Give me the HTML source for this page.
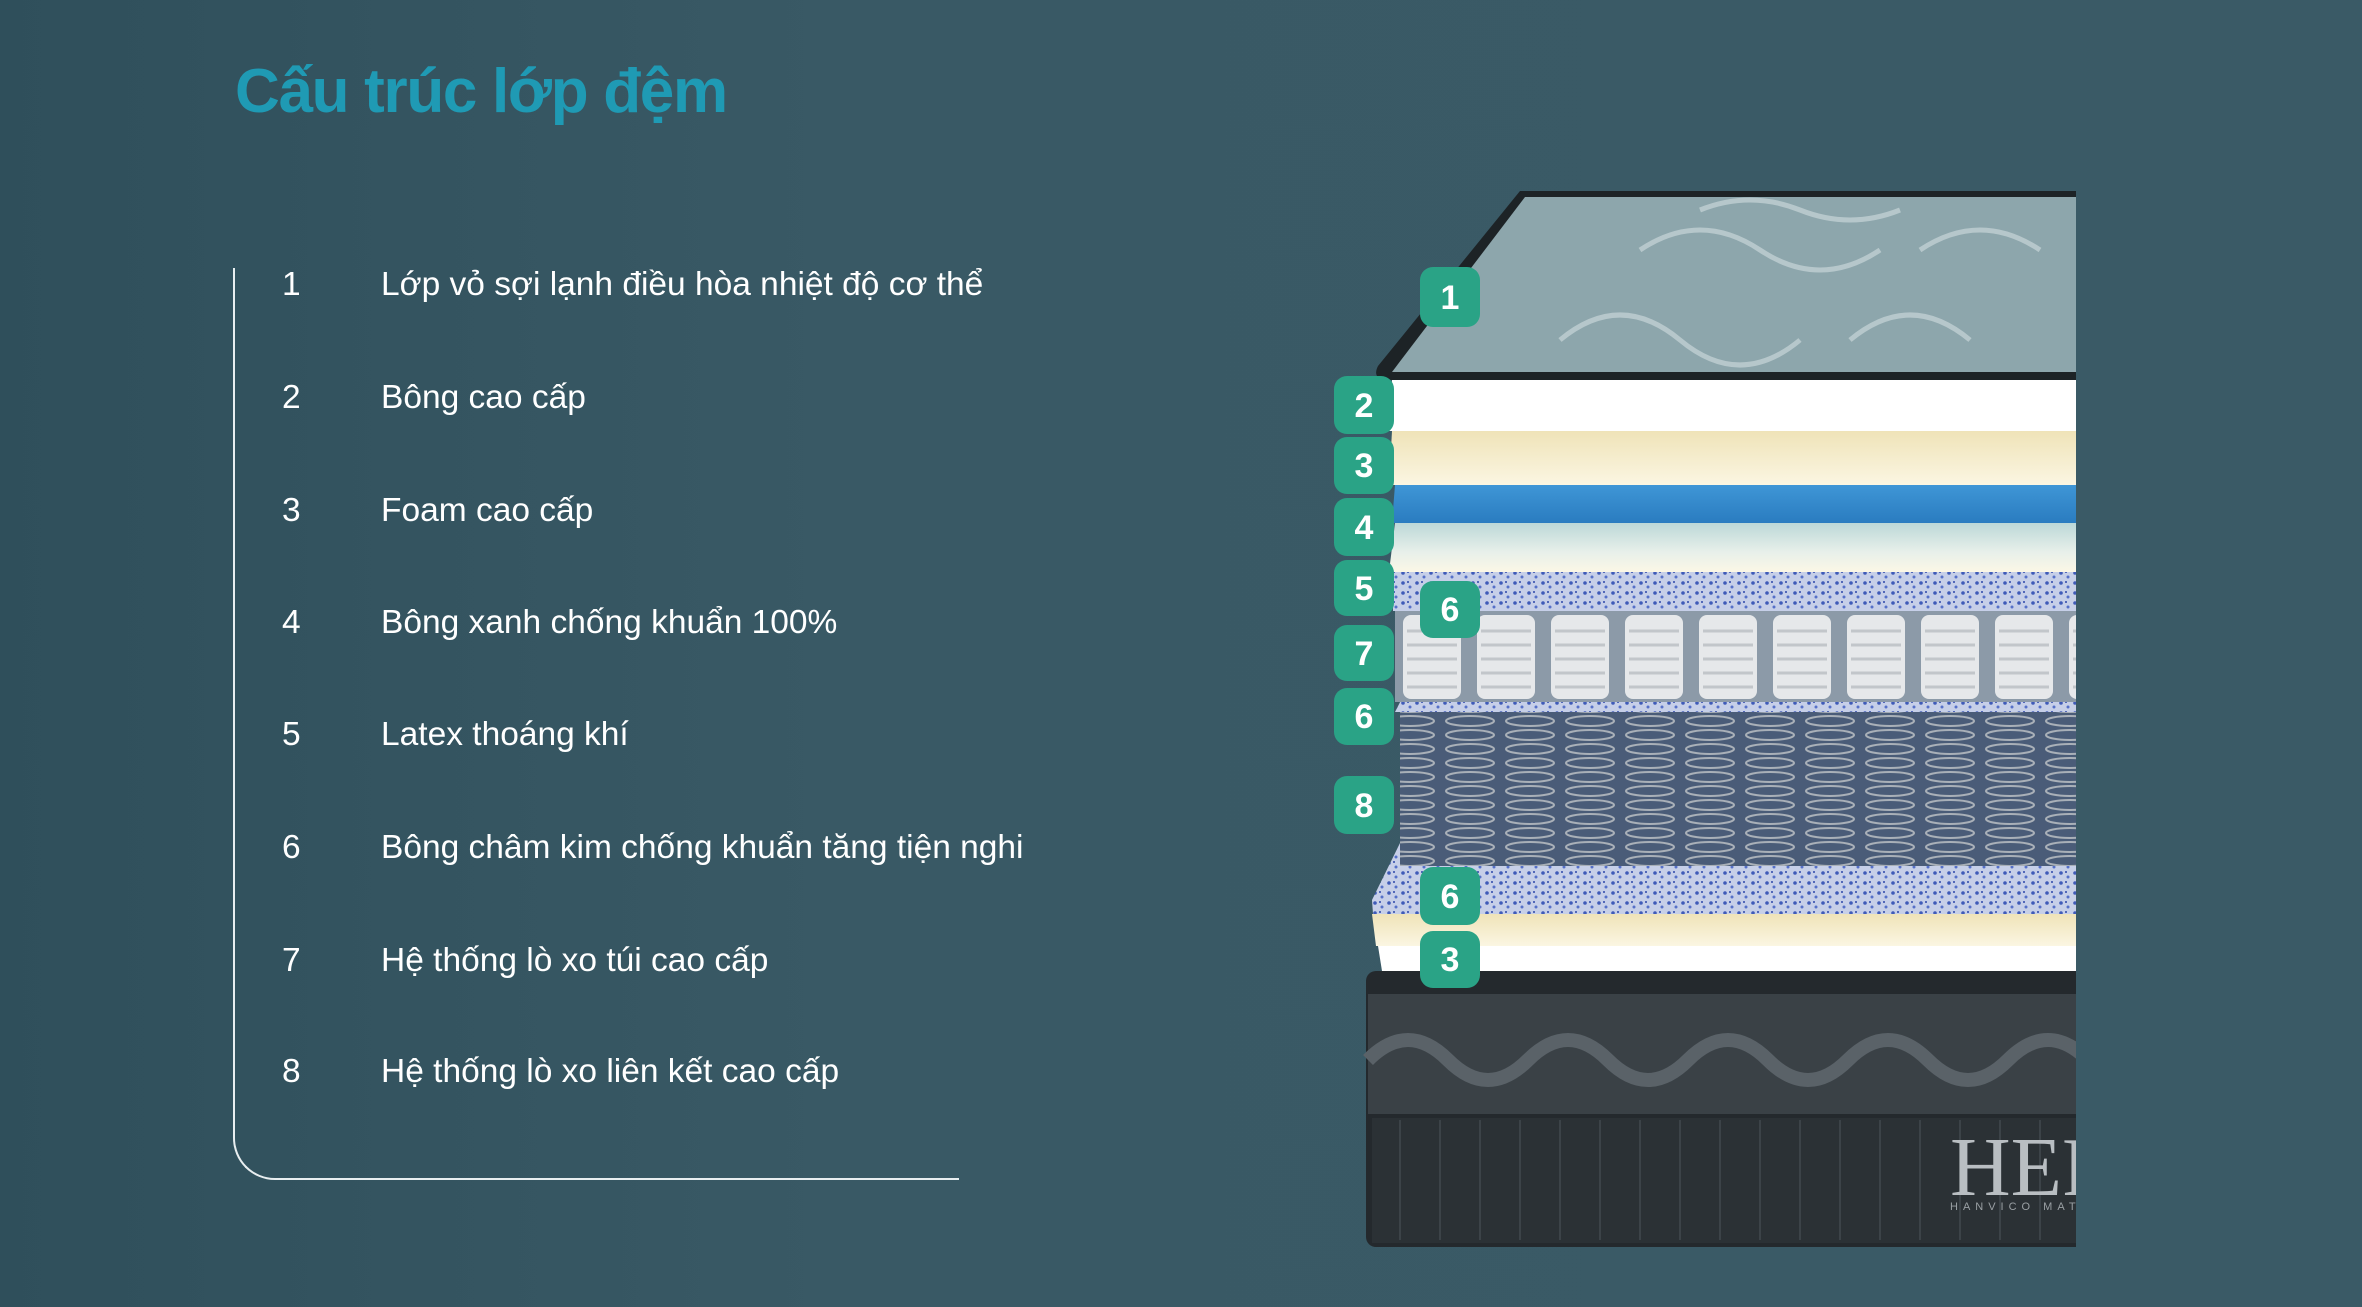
<!DOCTYPE html>
<html><head><meta charset="utf-8"><style>
html,body{margin:0;padding:0}
body{width:2362px;height:1307px;overflow:hidden;position:relative;background:linear-gradient(90deg,#2f4f5b 0%,#395965 35%,#3a5a66 100%);font-family:"Liberation Sans","Noto Sans CJK SC",sans-serif}
.title{position:absolute;left:235px;top:56px;font-size:62px;color:#1f9ab4;font-weight:bold;letter-spacing:-1.3px}
.frame{position:absolute;left:233px;top:268px;width:724px;height:910px;border-left:2px solid #e8eef0;border-bottom:2px solid #e8eef0;border-bottom-left-radius:42px;border-top:none;border-right:none}
.row{position:absolute;color:#fff;font-size:33.5px;line-height:40px}
.num{left:282px}.txt{left:381px}
</style></head><body>
<div class="title">Cấu trúc lớp đệm</div>
<div class="frame"></div>
<div class="row num" style="top:265px">1</div><div class="row txt" style="top:265px">Lớp vỏ sợi lạnh điều hòa nhiệt độ cơ thể</div>
<div class="row num" style="top:378px">2</div><div class="row txt" style="top:378px">Bông cao cấp</div>
<div class="row num" style="top:491px">3</div><div class="row txt" style="top:491px">Foam cao cấp</div>
<div class="row num" style="top:603px">4</div><div class="row txt" style="top:603px">Bông xanh chống khuẩn 100%</div>
<div class="row num" style="top:715px">5</div><div class="row txt" style="top:715px">Latex thoáng khí</div>
<div class="row num" style="top:828px">6</div><div class="row txt" style="top:828px">Bông châm kim chống khuẩn tăng tiện nghi</div>
<div class="row num" style="top:941px">7</div><div class="row txt" style="top:941px">Hệ thống lò xo túi cao cấp</div>
<div class="row num" style="top:1052px">8</div><div class="row txt" style="top:1052px">Hệ thống lò xo liên kết cao cấp</div>

<svg style="position:absolute;left:0;top:0" width="2362" height="1307" viewBox="0 0 2362 1307">
<defs>
<clipPath id="cl"><rect x="0" y="0" width="2076" height="1307"/></clipPath>
<pattern id="speck" width="14" height="10" patternUnits="userSpaceOnUse"><rect width="14" height="10" fill="#c6cfe8"/><circle cx="3" cy="3" r="1.8" fill="#3f5bb8"/><circle cx="10" cy="7" r="1.5" fill="#5570c8"/><circle cx="8" cy="2" r="1" fill="#2c47a8"/></pattern>
<pattern id="coil" width="60" height="14" patternUnits="userSpaceOnUse"><rect width="60" height="14" fill="#4a5c78"/><ellipse cx="30" cy="7" rx="24" ry="5" fill="none" stroke="#a9b0b8" stroke-width="2"/></pattern>
<pattern id="pock" width="74" height="91" patternUnits="userSpaceOnUse" x="1395" y="611"><rect width="74" height="91" fill="#8c9aa8"/><rect x="8" y="4" width="58" height="84" rx="8" fill="#e6e8ea"/><path d="M12 20h50M12 34h50M12 48h50M12 62h50M12 76h50" stroke="#c2c6ca" stroke-width="3"/></pattern>
<linearGradient id="blue" x1="0" y1="0" x2="0" y2="1"><stop offset="0" stop-color="#3f96d6"/><stop offset="1" stop-color="#2a7cc0"/></linearGradient>
<linearGradient id="cream" x1="0" y1="0" x2="0" y2="1"><stop offset="0" stop-color="#efe3b8"/><stop offset="1" stop-color="#fbf6e2"/></linearGradient>
<linearGradient id="pale" x1="0" y1="0" x2="0" y2="1"><stop offset="0" stop-color="#bcd8d8"/><stop offset="0.6" stop-color="#e8f0ea"/><stop offset="1" stop-color="#fbf7e6"/></linearGradient>
</defs>
<g clip-path="url(#cl)">
<rect x="1366" y="971" width="720" height="276" rx="10" fill="#24292d"/>
<rect x="1368" y="994" width="718" height="120" fill="#3a4146"/>
<path d="M1368 1060 q40 -40 80 0 t80 0 t80 0 t80 0 t80 0 t80 0 t80 0 t80 0 t80 0" stroke="#5a6268" stroke-width="14" fill="none"/>
<rect x="1372" y="1118" width="714" height="125" fill="#2b3135"/>
<g stroke="#3c4348" stroke-width="2"><path d="M1400 1120v120M1440 1120v120M1480 1120v120M1520 1120v120M1560 1120v120M1600 1120v120M1640 1120v120M1680 1120v120M1720 1120v120M1760 1120v120M1800 1120v120M1840 1120v120M1880 1120v120M1920 1120v120M1960 1120v120M2000 1120v120M2040 1120v120"/></g>
<text x="1950" y="1195" font-family="Liberation Serif,serif" font-size="84" fill="#b9bec2">HER</text>
<text x="1950" y="1210" font-family="Liberation Sans,sans-serif" font-size="11" letter-spacing="5" fill="#9aa0a4">HANVICO MAT</text>
</g>
<polygon points="1378,946 2076,946 2076,971 1382,971" fill="#fff"/>
<polygon points="1372,914 2076,914 2076,946 1376,946" fill="url(#cream)"/>
<polygon points="1400,843 2076,843 2076,914 1373,914 1372,900" fill="url(#speck)"/>
<polygon points="1400,712 2076,712 2076,866 1400,866" fill="url(#coil)"/>
<polygon points="1420,663 2076,663 2076,712 1395,712" fill="url(#speck)"/>
<rect x="1395" y="611" width="681" height="91" fill="url(#pock)"/>
<rect x="1393" y="572" width="683" height="39" fill="url(#speck)"/>
<polygon points="1395,523 2076,523 2076,572 1389,572" fill="url(#pale)"/>
<polygon points="1395,485 2076,485 2076,523 1392,523" fill="url(#blue)"/>
<polygon points="1392,431 2076,431 2076,485 1389,485" fill="url(#cream)"/>
<polygon points="1392,380 2076,380 2076,431 1389,431" fill="#ffffff"/>
<path d="M1520 191 L2076 191 L2076 380 L1385 380 Q1372 378 1378 366 Z" fill="#1d2326"/>
<path d="M1525 197 L2076 197 L2076 372 L1392 372 Z" fill="#8da6ac"/>
<g stroke="#c8d6d8" stroke-width="5" fill="none" opacity="0.7">
<path d="M1560 340 q60 -50 120 0 t120 0 M1850 340 q60 -50 120 0 M1640 250 q60 -40 120 0 t120 0 M1920 250 q60 -40 120 0 M1700 210 q50 -20 100 0 t100 0"/></g>
<g fill="#2aa386"><rect x="1420" y="267" width="60" height="60" rx="13"/>
<rect x="1334" y="376" width="60" height="58" rx="13"/><rect x="1334" y="437" width="60" height="57" rx="13"/><rect x="1334" y="498" width="60" height="58" rx="13"/><rect x="1334" y="560" width="60" height="56" rx="13"/><rect x="1334" y="625" width="60" height="56" rx="13"/><rect x="1334" y="688" width="60" height="57" rx="13"/><rect x="1334" y="776" width="60" height="58" rx="13"/>
<rect x="1420" y="581" width="60" height="57" rx="13"/><rect x="1420" y="867" width="60" height="58" rx="13"/><rect x="1420" y="931" width="60" height="57" rx="13"/></g>
<g fill="#fff" font-family="Liberation Sans,sans-serif" font-weight="bold" font-size="34" text-anchor="middle">
<text x="1450" y="309">1</text><text x="1364" y="417">2</text><text x="1364" y="477">3</text><text x="1364" y="539">4</text><text x="1364" y="600">5</text><text x="1364" y="665">7</text><text x="1364" y="728">6</text><text x="1364" y="817">8</text>
<text x="1450" y="621">6</text><text x="1450" y="908">6</text><text x="1450" y="971">3</text></g>
</svg>
</body></html>
